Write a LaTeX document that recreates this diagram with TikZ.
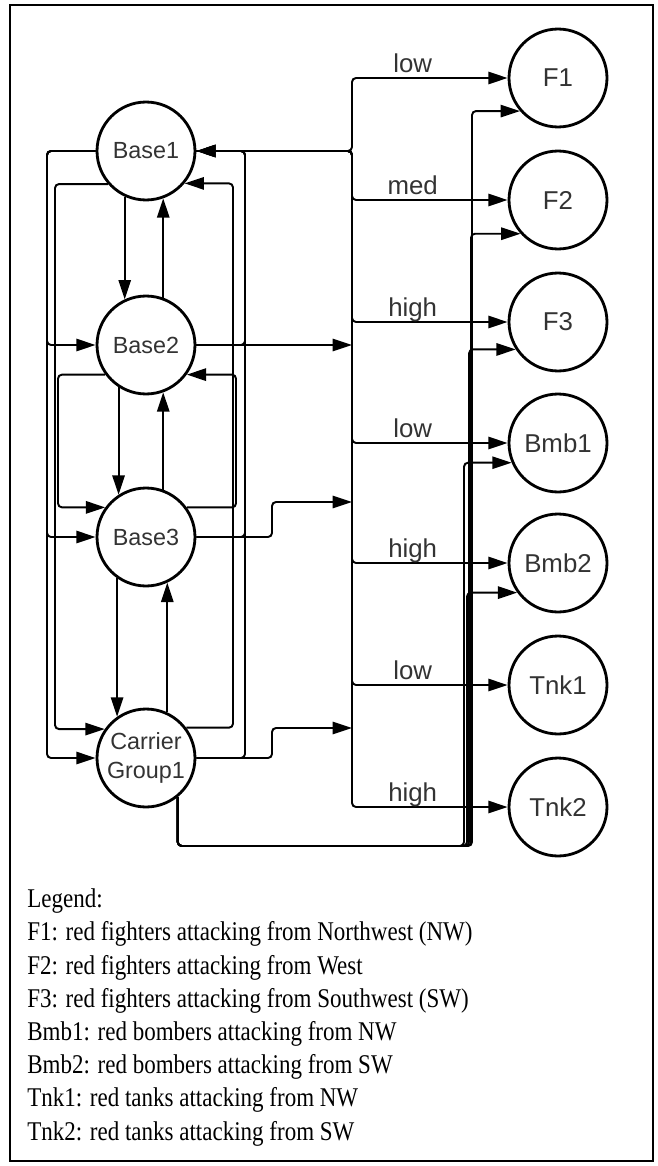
\documentclass[tikz,border=0pt]{standalone}
\usepackage{fontspec}
\setmainfont{Liberation Serif}
\newfontfamily\diagfont{Liberation Sans}
\usepackage{xcolor}
\usepackage{graphicx}
\usepackage{tikz}
\usetikzlibrary{arrows.meta}

\begin{document}
\begin{tikzpicture}[x=0.02cm,y=-0.02cm,
  unit/.style={circle,draw,line width=1.6pt,minimum size=1.96cm,inner sep=0pt,
    font=\diagfont\fontsize{13.3}{16}\selectfont,text=black!80,align=center},
  threat/.style={unit,font=\diagfont\fontsize{14.7}{16}\selectfont},
  arr/.style={-{Triangle[length=11pt,width=7pt]},line width=1.1pt,rounded corners=0.08cm},
  lvl/.style={font=\diagfont\fontsize{14.7}{16}\selectfont,text=black!80,
    anchor=base,inner sep=0pt,yshift=0.12cm,pos=0.39}]
  \useasboundingbox (0,0) rectangle (658,1166);

  % Frame
  \draw[line width=1.1pt] (10,5) rectangle (653,1161);

  % Blue units
  \node[unit] (B1) at (146,151) {Base1};
  \node[unit] (B2) at (146,345) {Base2};
  \node[unit] (B3) at (146,537) {Base3};
  \node[unit] (CG) at (146,758) {Carrier\\Group1};

  % Red threats
  \node[threat] (F1)   at (558,78)  {F1};
  \node[threat] (F2)   at (558,200) {F2};
  \node[threat] (F3)   at (558,322) {F3};
  \node[threat] (Bmb1) at (558,443) {Bmb1};
  \node[threat] (Bmb2) at (558,563) {Bmb2};
  \node[threat] (Tnk1) at (558,685) {Tnk1};
  \node[threat] (Tnk2) at (558,807) {Tnk2};

  % Routing columns
  \coordinate (xo)  at (47,0);
  \coordinate (xi)  at (55,0);
  \coordinate (xj)  at (58,0);
  \coordinate (ye)  at (245,0);
  \coordinate (yi)  at (233,0);
  \coordinate (yj)  at (236,0);
  \coordinate (bus) at (352,0);

  % Direct links between units
  \draw[arr] (B1.-115) -- (B2.115);
  \draw[arr] (B2.70)   -- (B1.-70);
  \draw[arr] (B2.-123) -- (B3.123);
  \draw[arr] (B3.70)   -- (B2.-70);
  \draw[arr] (B3.-125) -- (CG.125);
  \draw[arr] (CG.65)   -- (B3.-65);

  % West loops
  \draw[arr] (B1.west) -| (xo |- B2.west) -- (B2.west);
  \draw[arr] (B1.west) -| (xo |- B3.west) -- (B3.west);
  \draw[arr] (B1.west) -| (xo |- CG.west) -- (CG.west);
  \draw[arr] (B1.221) -| (xi |- CG.145) -- (CG.145);
  \draw[arr] (B2.216) -| (xj |- B3.144) -- (B3.144);

  % East loops
  \draw[arr] (B2.east) -| (ye |- B1.east) -- (B1.east);
  \draw[arr] (B3.east) -| (ye |- B1.east) -- (B1.east);
  \draw[arr] (CG.east) -| (ye |- B1.east) -- (B1.east);
  \draw[arr] (CG.37) -| (yi |- B1.-40) -- (B1.-40);
  \draw[arr] (B3.36) -| (yj |- B2.-36) -- (B2.-36);

  % Feeds into the bus
  \coordinate (m3) at (272,502);
  \coordinate (m4) at (272,728);
  \draw[arr] (B2.east) -- (bus |- B2.east);
  \draw[arr] (B3.east) -| (m3) -- (bus |- m3);
  \draw[arr] (CG.east) -| (m4) -- (bus |- m4);

  % Bus to threats
  \draw[arr] (B1.east) -| (bus |- F1)   -- node[lvl] {low}  (F1.west);
  \draw[arr] (B1.east) -| (bus |- F2)   -- node[lvl] {med}  (F2.west);
  \draw[arr] (B1.east) -| (bus |- F3)   -- node[lvl] {high} (F3.west);
  \draw[arr] (B1.east) -| (bus |- Bmb1) -- node[lvl] {low}  (Bmb1.west);
  \draw[arr] (B1.east) -| (bus |- Bmb2) -- node[lvl] {high} (Bmb2.west);
  \draw[arr] (B1.east) -| (bus |- Tnk1) -- node[lvl] {low}  (Tnk1.west);
  \draw[arr] (B1.east) -| (bus |- Tnk2) -- node[lvl] {high} (Tnk2.west);

  % Carrier air route
  \coordinate (cF1) at (472,846);
  \coordinate (cF2) at (471,846);
  \coordinate (cF3) at (469,846);
  \coordinate (cB1) at (464,846);
  \coordinate (cB2) at (467,846);
  \draw[arr] (CG.-51) |- (cF1) |- (F1.221);
  \draw[arr] (CG.-51) |- (cF2) |- (F2.222);
  \draw[arr] (CG.-51) |- (cF3) |- (F3.213);
  \draw[arr] (CG.-51) |- (cB1) |- (Bmb1.203);
  \draw[arr] (CG.-51) |- (cB2) |- (Bmb2.216);

  % Legend
  \node[anchor=north west,inner sep=0pt,
    font=\fontsize{15.4}{18.9}\selectfont] (legend) at (27,884)
    {\scalebox{0.85}[1]{\begin{tabular}[t]{@{}l@{}}
     Legend:\\
     F1: red fighters attacking from Northwest (NW)\\
     F2: red fighters attacking from West\\
     F3: red fighters attacking from Southwest (SW)\\
     Bmb1: red bombers attacking from NW\\
     Bmb2: red bombers attacking from SW\\
     Tnk1: red tanks attacking from NW\\
     Tnk2: red tanks attacking from SW
     \end{tabular}}};
\end{tikzpicture}
\end{document}
